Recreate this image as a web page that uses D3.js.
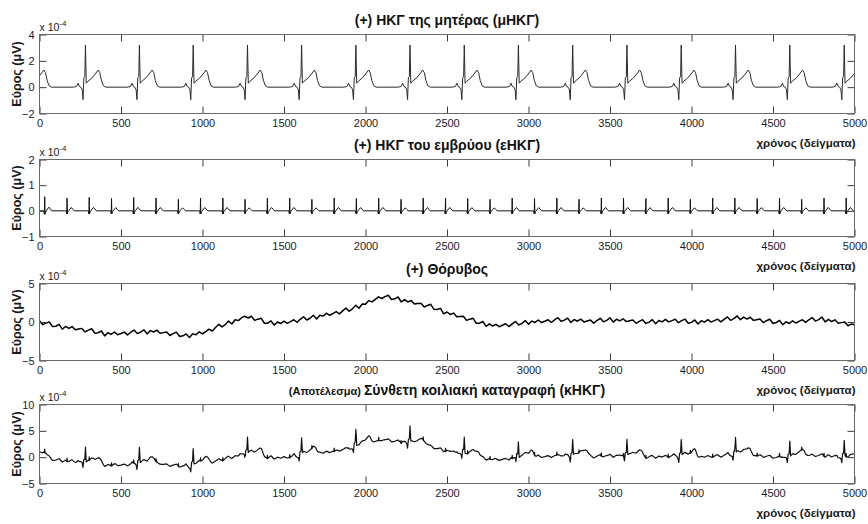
<!DOCTYPE html>
<html><head><meta charset="utf-8">
<script src="https://cdn.jsdelivr.net/npm/d3@7"></script>
<style>body{margin:0;background:#fff} svg{display:block}</style>
</head><body><svg id="c" width="868" height="524"></svg>
<script>
// ---------------- data ----------------
const xTicks = [0,500,1000,1500,2000,2500,3000,3500,4000,4500,5000];
const xDomain = [0,5000];
const yDomains = [[-2,4],[-1,2],[-5,5],[-5,10]];
const yTicks = [[-2,0,2,4],[-1,0,1,2],[-5,0,5],[-5,0,5,10]];
const titlesPrefix = ["(+) ","(+) ","(+) ","(Αποτέλεσμα) "];
const titlesMain = ["ΗΚΓ της μητέρας (μΗΚΓ)","ΗΚΓ του εμβρύου (εΗΚΓ)","Θόρυβος","Σύνθετη κοιλιακή καταγραφή (κΗΚΓ)"];
const yLabel = "Εύρος (μV)";
const xLabel = "χρόνος (δείγματα)";
const scaleNote = "x 10";
const scaleExp = "-4";

// maternal ECG: R-peak sample positions and one beat shape (offset in samples, value in 1e-4)
const maternalBeats = [-51,282,613,943,1276,1608,1941,2273,2606,2938,3271,3604,3937,4270,4603,4937];
const maternalOffsets = [-75,-55,-45,-37,-28,-20,-15,-10,-4,0,5,15,40,60,78,88,98,110,125];
const maternalValues  = [0,0.05,0.3,0.05,0,-0.2,-0.95,0.7,0.8,3.2,0.3,0.45,0.7,1.0,1.3,1.1,0.5,0.1,0];

// fetal ECG
const fetalBeats = [32,169,305,442,578,715,852,988,1125,1261,1398,1535,1671,1808,1944,2081,2218,2354,2491,2627,2764,2900,3037,3174,3310,3447,3583,3720,3857,3993,4130,4266,4403,4540,4676,4813,4949];
const fetalAmps  = [0.55,0.5,0.52,0.48,0.52,0.5,0.45,0.5,0.5,0.45,0.5,0.5,0.45,0.5,0.48,0.5,0.45,0.5,0.5,0.48,0.45,0.5,0.48,0.5,0.45,0.5,0.5,0.48,0.5,0.45,0.5,0.5,0.48,0.5,0.45,0.5,0.5];
const fetalOffsets = [-15,-5,-2,0,2,5,10,18,26,34,44];
const fetalValues  = [0,0,-0.12,0.5,-0.12,-0.04,0,0.07,0.13,0.07,0];

// noise, one value every 20 samples (1e-4)
const noiseStep = 20;
const noiseValues = [
 0.15,-0.35,-0.15,0.0,-0.6,  -0.55,-0.31,-0.92,-0.58,-0.84,  -0.6,-1.01,-0.92,-0.83,-1.29,  -1.05,-0.88,-1.46,-1.39,-1.17,
 -1.8,-1.4,-1.6,-1.3,-1.65,  -1.5,-1.31,-1.67,-1.33,-1.04,  -1.5,-1.33,-1.01,-1.54,-1.12,  -1.3,-1.06,-1.47,-1.38,-1.29,
 -1.75,-1.51,-1.32,-1.88,-1.79,  -1.55,-2.02,-1.54,-1.66,-1.28,  -1.55,-1.24,-0.93,-1.17,-0.71,  -0.3,-0.64,-0.33,0.13,-0.26,
 0.3,0.18,0.56,0.75,0.52,  0.75,0.21,0.37,0.48,-0.16,  -0.15,0.15,-0.4,0.0,-0.2,  0.1,-0.17,0.06,0.29,-0.03,
 0.35,0.68,0.26,0.49,0.87,  0.4,0.88,0.76,1.14,0.87,  1.1,1.35,1.05,1.45,1.8,  1.4,1.71,2.17,1.78,2.34,
 2.3,2.78,2.61,2.94,3.27,  3.05,3.29,3.48,2.92,3.01,  3.25,2.6,2.9,2.6,2.8,  2.35,2.4,2.45,1.95,2.15,
 2.3,1.64,1.63,1.77,1.06,  1.3,0.98,1.16,0.69,0.72,  0.75,0.21,0.37,0.48,-0.16,  -0.15,0.07,-0.56,-0.24,-0.52,
 -0.3,-0.61,-0.42,-0.23,-0.59,  -0.25,0.06,-0.38,-0.17,0.19,  -0.3,0.12,-0.06,0.26,-0.07,  0.1,0.29,-0.07,0.27,0.56,
 0.1,0.23,0.51,-0.06,0.32,  0.1,0.38,0.01,0.14,0.27,  -0.15,0.19,0.48,0.02,0.21,  0.55,-0.02,0.36,0.14,0.42,
 0.05,0.16,0.27,-0.17,0.09,  0.3,-0.18,-0.01,0.31,-0.22,  0.2,0.02,0.34,0.01,0.18,  0.35,-0.09,0.17,0.38,-0.16,
 -0.05,0.27,-0.26,0.16,-0.02,  0.3,-0.01,0.18,0.37,0.01,  0.35,0.66,0.22,0.43,0.79,  0.3,0.64,0.38,0.62,0.21,
 0.3,0.39,-0.07,0.17,0.36,  -0.2,-0.07,0.21,-0.36,0.02,  -0.2,0.16,-0.13,0.08,0.29,  -0.05,0.29,0.58,0.12,0.31,
 0.65,0.02,0.34,0.06,0.28,  -0.15,-0.08,-0.01,-0.49,-0.27,
 -0.35];

// ---------------- build series ----------------
function shapeAt(offs, vals, o){
  if (o < offs[0] || o > offs[offs.length-1]) return 0;
  for (let i=1;i<offs.length;i++){
    if (o <= offs[i]){ const t=(o-offs[i-1])/(offs[i]-offs[i-1]); return vals[i-1]+t*(vals[i]-vals[i-1]); }
  }
  return 0;
}
function maternalAt(s){ let v=0; maternalBeats.forEach(b=>{v+=shapeAt(maternalOffsets,maternalValues,s-b);}); return v; }
function fetalAt(s){ let v=0; fetalBeats.forEach((b,i)=>{v+=shapeAt(fetalOffsets,fetalValues,s-b)*fetalAmps[i]/0.5;}); return v; }
const noiseX = noiseValues.map((d,i)=>i*noiseStep);
function noiseAt(s){
  const i=Math.min(Math.floor(s/noiseStep),noiseValues.length-2);
  const t=(s-noiseX[i])/noiseStep; return noiseValues[i]+t*(noiseValues[i+1]-noiseValues[i]);
}
function breaks(beats, offs){
  const a=[];
  beats.forEach(b=>offs.forEach(o=>{const s=b+o; if(s>=0&&s<=5000) a.push(s);}));
  return a;
}
const mX = Array.from(new Set([0,5000,...breaks(maternalBeats,maternalOffsets)])).sort((a,b)=>a-b);
const fX = Array.from(new Set([0,5000,...breaks(fetalBeats,fetalOffsets)])).sort((a,b)=>a-b);
const cX = Array.from(new Set([...mX,...fX,...noiseX])).sort((a,b)=>a-b);
const series = [
  mX.map(s=>[s,maternalAt(s)]),
  fX.map(s=>[s,fetalAt(s)]),
  noiseX.map((s,i)=>[s,noiseValues[i]]),
  cX.map(s=>[s,maternalAt(s)+fetalAt(s)+noiseAt(s)])
];
const lineColors = ["#2a2a2a","#111","#000","#111"];
const lineWidths = [1,1,1.5,1.2];

// ---------------- draw ----------------
const svg = d3.select("#c");
const L=39.5, R=854.5;
const tops=[34.5,159.5,283.5,404.5], bots=[113.5,236.5,360.5,483.5];
const x = d3.scaleLinear().domain(xDomain).range([L,R]);
const font = "'Liberation Sans', Arial, sans-serif";
const axCol = "#3a3a3a", tickTxt = "#1a1a2e";

for (let p=0;p<4;p++){
  const y = d3.scaleLinear().domain(yDomains[p]).range([bots[p],tops[p]]);
  const g = svg.append("g");
  g.append("clipPath").attr("id","cl"+p).append("rect")
    .attr("x",L).attr("y",tops[p]).attr("width",R-L).attr("height",bots[p]-tops[p]);
  g.append("path").datum(series[p])
    .attr("clip-path","url(#cl"+p+")")
    .attr("fill","none").attr("stroke",lineColors[p]).attr("stroke-width",lineWidths[p])
    .attr("stroke-linejoin","round")
    .attr("d", d3.line().x(d=>x(d[0])).y(d=>y(d[1])));

  const styleAxis = sel => {
    sel.select(".domain").remove();
    sel.selectAll("line").attr("stroke",axCol);
    sel.selectAll("text").attr("fill",tickTxt).style("font-family",font).style("font-size","11px");
  };
  g.append("g").attr("transform",`translate(0,${bots[p]})`)
    .call(d3.axisBottom(x).tickValues(xTicks).tickFormat(d3.format("d")).tickSize(-7).tickPadding(6)).call(styleAxis);
  g.append("g").attr("transform",`translate(0,${tops[p]})`)
    .call(d3.axisTop(x).tickValues(xTicks).tickFormat("").tickSize(-7)).call(styleAxis);
  g.append("g").attr("transform",`translate(${L},0)`)
    .call(d3.axisLeft(y).tickValues(yTicks[p]).tickFormat(d3.format("d")).tickSize(-7).tickPadding(5)).call(styleAxis);
  g.append("g").attr("transform",`translate(${R},0)`)
    .call(d3.axisRight(y).tickValues(yTicks[p]).tickFormat("").tickSize(-7)).call(styleAxis);
  g.append("rect").attr("x",L).attr("y",tops[p]).attr("width",R-L).attr("height",bots[p]-tops[p])
    .attr("fill","none").attr("stroke","#6a6a6a").attr("stroke-width",1);

  // exponent note
  const n = g.append("text").attr("x",L).attr("y",tops[p]-4)
    .style("font-family",font).style("font-size","10.5px").attr("fill","#1a1a1a");
  n.append("tspan").text(scaleNote);
  n.append("tspan").attr("dy",-5).style("font-size","8px").text(scaleExp);

  // title
  const t = g.append("text").attr("x",(L+R)/2).attr("y",tops[p]-10).attr("text-anchor","middle")
    .style("font-family",font).style("font-weight","bold").attr("fill","#111");
  t.append("tspan").style("font-size", p===3?"11px":"14px").text(titlesPrefix[p]);
  t.append("tspan").style("font-size","14px").text(titlesMain[p]);

  // y label
  g.append("text").attr("transform",`translate(21,${(tops[p]+bots[p])/2}) rotate(-90)`)
    .attr("text-anchor","middle").style("font-family",font).style("font-weight","bold")
    .style("font-size","12.5px").attr("fill","#1a1a1a").text(yLabel);
  // x label
  g.append("text").attr("x",R+1).attr("y",bots[p]+33).attr("text-anchor","end")
    .style("font-family",font).style("font-weight","bold").style("font-size","11.5px")
    .attr("fill","#1a1a1a").text(xLabel);
}
</script></body></html>
